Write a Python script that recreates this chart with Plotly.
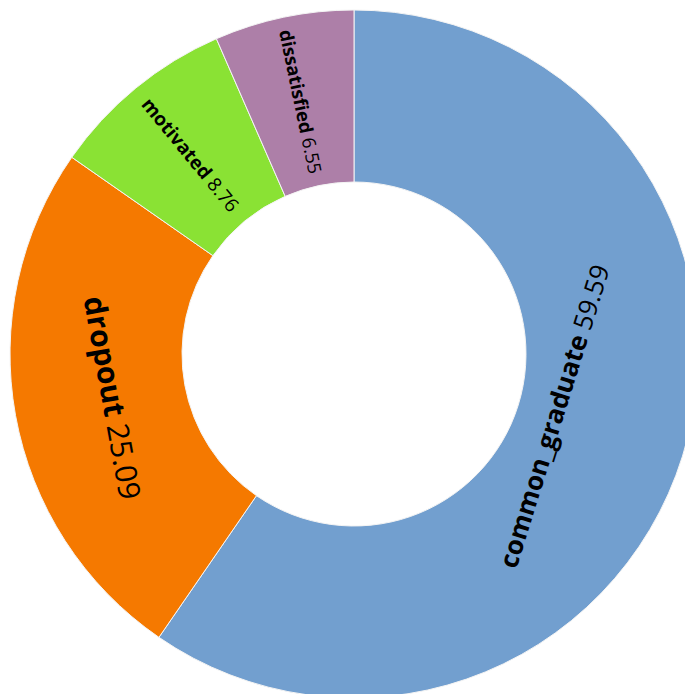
import plotly.graph_objects as go

labels = ["common_graduate", "dropout", "motivated", "dissatisfied"]
values = [59.59, 25.09, 8.76, 6.55]
colors = ["#729fcf", "#f57900", "#8ae234", "#ad7fa8"]
text_sizes = [26, 30, 19, 18.5]
# small slices get their label written across the ring (radial)
radial_text = [False, False, True, True]

label_tpl = "<b>%{label}</b> %{value}"
tpl_auto = ["" if r else label_tpl for r in radial_text]
tpl_rad = [label_tpl if r else "" for r in radial_text]

common = dict(
    labels=labels,
    values=values,
    sort=False,
    direction="clockwise",
    rotation=0,
    hole=0.5,
    textposition="inside",
    showlegend=False,
)

fig = go.Figure()
fig.add_trace(
    go.Pie(
        **common,
        marker=dict(colors=colors, line=dict(color="#f4f4f4", width=1)),
        texttemplate=tpl_auto,
        insidetextorientation="auto",
        insidetextfont=dict(family="Open Sans", color="black", size=text_sizes),
        hoverinfo="label+value",
    )
)
fig.add_trace(
    go.Pie(
        **common,
        marker=dict(colors=["rgba(0,0,0,0)"] * len(labels), line=dict(width=0)),
        texttemplate=tpl_rad,
        insidetextorientation="radial",
        insidetextfont=dict(family="Open Sans", color="black", size=text_sizes),
        hoverinfo="skip",
    )
)

fig.update_layout(
    width=700,
    height=700,
    margin=dict(l=2, t=2, r=10, b=10),
    paper_bgcolor="white",
    plot_bgcolor="white",
)

fig.write_html(
    "out.html",
    post_script="document.body.style.overflow='hidden';document.documentElement.style.overflow='hidden';",
)
